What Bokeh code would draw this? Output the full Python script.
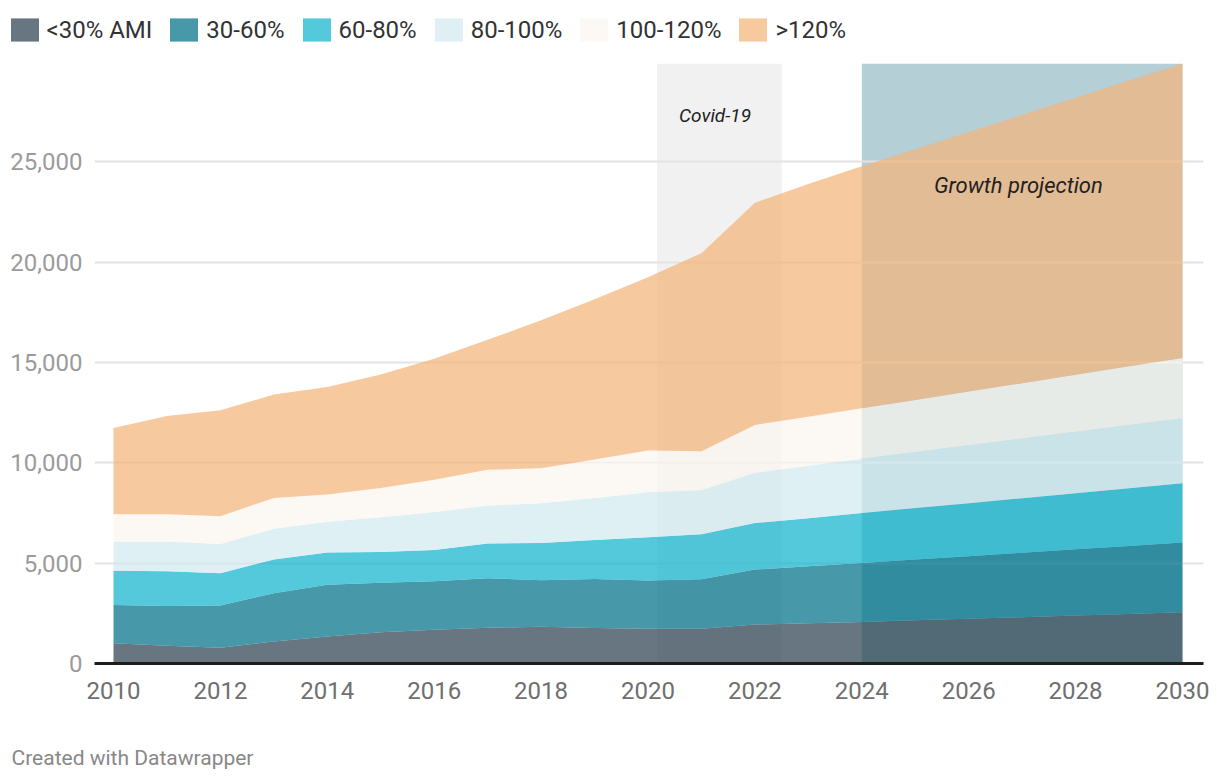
from bokeh.plotting import figure
from bokeh.layouts import column
from bokeh.models import ColumnDataSource, FixedTicker, NumeralTickFormatter, Label, Range1d
from bokeh.embed import file_html
from bokeh.resources import INLINE

# ---- data ----
years = list(range(2010, 2031))
ami_lt30 = [1010, 890, 790, 1100, 1350, 1560, 1680, 1780, 1830, 1770, 1730, 1730, 1940, 2010, 2070,
            2150, 2230, 2310, 2390, 2470, 2550]
ami_30_60 = [1910, 1970, 2100, 2400, 2580, 2460, 2420, 2470, 2320, 2440, 2400, 2470, 2740, 2840, 2940,
             3030, 3120, 3210, 3300, 3390, 3480]
ami_60_80 = [1700, 1740, 1610, 1680, 1600, 1540, 1560, 1730, 1860, 1950, 2160, 2240, 2320, 2390, 2490,
             2570, 2640, 2720, 2800, 2870, 2950]
ami_80_100 = [1460, 1480, 1450, 1540, 1540, 1730, 1890, 1890, 1980, 2090, 2240, 2190, 2500, 2610, 2700,
              2790, 2880, 2970, 3060, 3150, 3240]
ami_100_120 = [1360, 1360, 1390, 1530, 1350, 1460, 1610, 1780, 1740, 1910, 2080, 1950, 2390, 2450, 2515,
               2590, 2680, 2760, 2840, 2930, 3010]
ami_gt120 = [4300, 4890, 5280, 5150, 5360, 5650, 6030, 6480, 7370, 7990, 8640, 9870, 11070, 11600, 12065,
             12500, 12940, 13370, 13800, 14240, 14670]

series_keys = ["lt30", "s30_60", "s60_80", "s80_100", "s100_120", "gt120"]
series_labels = ["<30% AMI", "30-60%", "60-80%", "80-100%", "100-120%", ">120%"]
x_ticks = list(range(2010, 2031, 2))
y_ticks = [0, 5000, 10000, 15000, 20000, 25000]

covid_range = (2020.17, 2022.5)
covid_text = "Covid-19"
growth_range = (2024, 2030)
growth_text = "Growth projection"
footer_text = "Created with Datawrapper"
y_top = 29900

# ---- styles ----
series_colors = ["#2d4151", "#007189", "#13b4ce", "#d3eaf0", "#fbf5ee", "#f4b47a"]
area_alpha = 0.72
FONT = "Roboto"
W = 1210

source = ColumnDataSource(dict(year=years, lt30=ami_lt30, s30_60=ami_30_60, s60_80=ami_60_80,
                               s80_100=ami_80_100, s100_120=ami_100_120, gt120=ami_gt120))

# ---------- legend strip (its ranges keep the areas out of view; only the legend shows) ----------
leg = figure(width=W, height=63, x_range=Range1d(0, 1), y_range=Range1d(0, 1),
             output_backend="svg", toolbar_location=None,
             x_axis_location=None, y_axis_location=None,
             min_border_left=0, min_border_right=0, min_border_top=0, min_border_bottom=0,
             frame_align=False)
leg.outline_line_color = None
leg.grid.visible = False
leg.varea_stack(stackers=series_keys, x="year", color=series_colors, fill_alpha=area_alpha,
                legend_label=series_labels, source=source)
lg = leg.legend[0]
lg.orientation = "horizontal"
lg.location = (6.5, 19)
lg.glyph_width = 35
lg.glyph_height = 29
lg.label_standoff = 5
lg.spacing = 14
lg.padding = 0
lg.margin = 0
lg.border_line_color = None
lg.background_fill_alpha = 0
lg.label_text_font = FONT
lg.label_text_font_size = "24px"
lg.label_text_color = "#333333"

# ---------- main chart ----------
p = figure(width=W, height=645,
           x_range=Range1d(2009.6445, 2030.393), y_range=Range1d(0, y_top),
           output_backend="svg", toolbar_location=None,
           min_border_left=94, min_border_right=7, min_border_top=0, min_border_bottom=45,
           frame_align=False)
p.outline_line_color = None
p.background_fill_color = "white"
p.border_fill_color = "white"

# highlight bands (behind everything)
p.quad(left=[covid_range[0]], right=[covid_range[1]], bottom=[0], top=[y_top],
       fill_color="#f1f1f1", line_color=None, level="image")
p.quad(left=[growth_range[0]], right=[growth_range[1]], bottom=[0], top=[y_top],
       fill_color="#b5cfd6", line_color=None, level="image")

p.varea_stack(stackers=series_keys, x="year", color=series_colors, fill_alpha=area_alpha,
              source=source)

p.xaxis.ticker = FixedTicker(ticks=x_ticks)
p.xaxis.major_tick_line_color = None
p.xaxis.minor_tick_line_color = None
p.xaxis.axis_line_color = "#1d1d1d"
p.xaxis.axis_line_width = 3
p.xaxis.major_label_text_font = FONT
p.xaxis.major_label_text_font_size = "24px"
p.xaxis.major_label_text_color = "#6f6f6f"
p.xaxis.major_label_standoff = 12

p.yaxis.ticker = FixedTicker(ticks=y_ticks)
p.yaxis.formatter = NumeralTickFormatter(format="0,0")
p.yaxis.axis_line_color = None
p.yaxis.major_tick_line_color = None
p.yaxis.minor_tick_line_color = None
p.yaxis.major_label_text_font = FONT
p.yaxis.major_label_text_font_size = "24px"
p.yaxis.major_label_text_color = "#9b9b9b"
p.yaxis.major_label_standoff = 6

p.xgrid.grid_line_color = None
p.ygrid.grid_line_color = "#e3e3e3"
p.ygrid.grid_line_width = 2

p.add_layout(Label(x=(covid_range[0] + covid_range[1]) / 2 - 0.08, y=27300, text=covid_text,
                   text_align="center", text_baseline="middle", text_font=FONT,
                   text_font_style="italic", text_font_size="19px", text_color="#222222"))
p.add_layout(Label(x=(growth_range[0] + growth_range[1]) / 2 - 0.07, y=23800, text=growth_text,
                   text_align="center", text_baseline="middle", text_font=FONT,
                   text_font_style="italic", text_font_size="22px", text_color="#222222"))

# ---------- footer strip ----------
foot = figure(width=W, height=66, x_range=Range1d(0, W), y_range=Range1d(0, 66),
              output_backend="svg", toolbar_location=None,
              x_axis_location=None, y_axis_location=None,
              min_border_left=0, min_border_right=0, min_border_top=0, min_border_bottom=0,
              frame_align=False)
foot.outline_line_color = None
foot.grid.visible = False
foot.add_layout(Label(x=11, y=17, text=footer_text, text_align="left", text_baseline="middle",
                      text_font=FONT, text_font_size="21px", text_color="#888888"))

layout = column(leg, p, foot, spacing=0)
open("out.html", "w").write(file_html(layout, INLINE))
